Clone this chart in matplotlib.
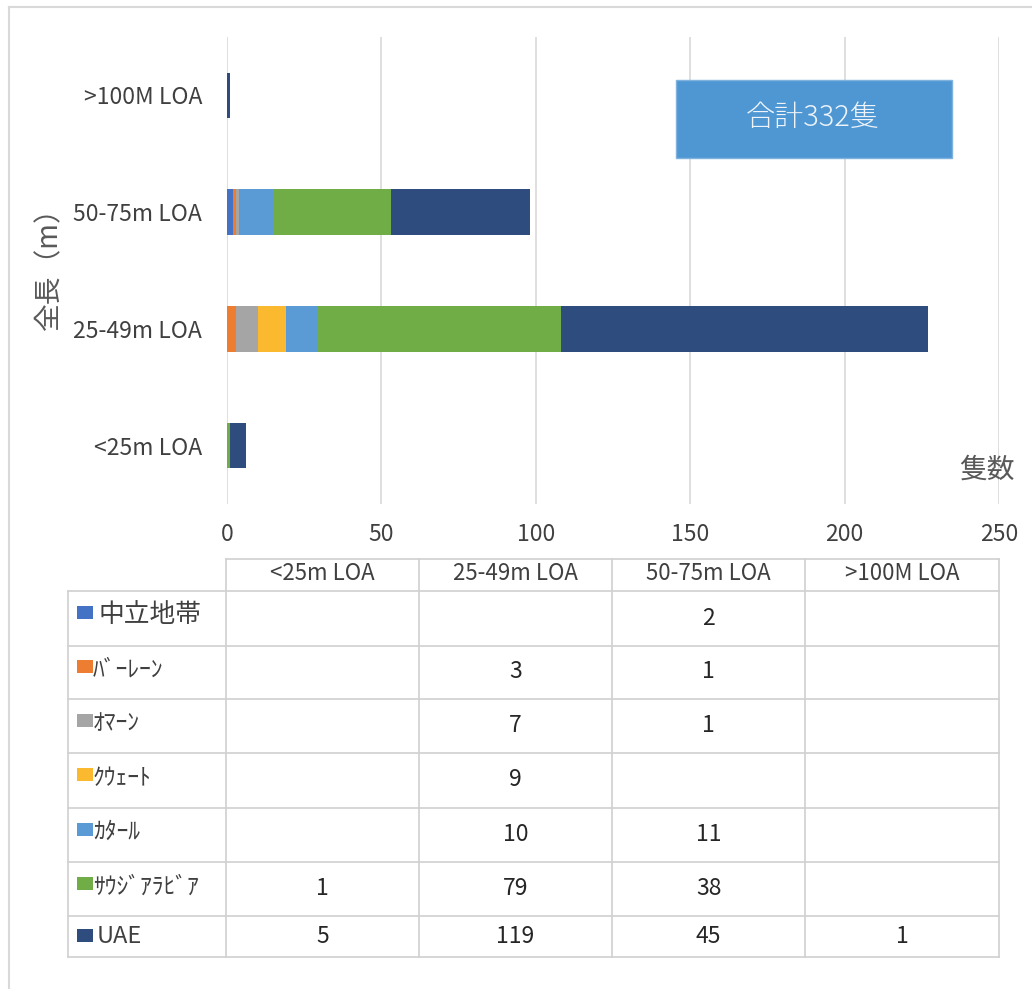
import matplotlib
matplotlib.use("Agg")
import matplotlib.pyplot as plt
from matplotlib.patches import Rectangle
import numpy as np

plt.rcParams['font.family'] = ['Noto Sans CJK JP', 'DejaVu Sans']

categories = ['<25m LOA', '25-49m LOA', '50-75m LOA', '>100M LOA']
series_names = ['中立地帯', 'ﾊﾞｰﾚｰﾝ', 'ｵﾏｰﾝ', 'ｸｳｪｰﾄ', 'ｶﾀｰﾙ', 'ｻｳｼﾞｱﾗﾋﾞｱ', 'UAE']
neutral_zone = [0, 0, 2, 0]
bahrain = [0, 3, 1, 0]
oman = [0, 7, 1, 0]
kuwait = [0, 9, 0, 0]
qatar = [0, 10, 11, 0]
saudi = [1, 79, 38, 0]
uae = [5, 119, 45, 1]
series_values = [neutral_zone, bahrain, oman, kuwait, qatar, saudi, uae]
colors = ['#4472C4', '#ED7D31', '#A5A5A5', '#FBB92F', '#5B9BD5', '#70AD47', '#2E4C7E']
x_ticks = [0, 50, 100, 150, 200, 250]
total_label = '合計332隻'
y_label = '全長（m）'
x_label = '隻数'

W, H = 1032, 989
fig = plt.figure(figsize=(W / 100, H / 100), dpi=100)

# main bar axes (pixel box: x 227..999, y 37..504)
ax = fig.add_axes([227 / W, 1 - 504 / H, (999 - 227) / W, (504 - 37) / H])
ypos = np.arange(len(categories))
left = np.zeros(len(categories))
for name, vals, c in zip(series_names, series_values, colors):
    vals = np.array(vals, dtype=float)
    ax.barh(ypos, vals, left=left, height=0.39, color=c, zorder=3)
    left += vals
ax.set_xlim(0, 250)
ax.set_ylim(-0.5, 3.5)
ax.set_xticks(x_ticks)
ax.set_xticklabels([str(t) for t in x_ticks], fontsize=16.5, color='#404040')
ax.set_yticks(ypos)
ax.set_yticklabels(categories, fontsize=16.5, color='#404040')
ax.tick_params(axis='x', length=0, pad=14)
ax.tick_params(axis='y', length=0, pad=18)
ax.grid(axis='x', color='#D9D9D9', linewidth=1.2, zorder=0)
for s in ax.spines.values():
    s.set_visible(False)
ax.set_ylabel(y_label, fontsize=20, color='#595959')
ax.yaxis.set_label_coords((64 - 227) / 772, (504 - 262) / 467)

# overlay axes in pixel coordinates
ov = fig.add_axes([0, 0, 1, 1], zorder=5)
ov.set_xlim(0, W)
ov.set_ylim(H, 0)
ov.axis('off')
ov.patch.set_alpha(0)

# chart area border (top + left)
ov.plot([9, W], [6.5, 6.5], color='#D9D9D9', lw=1.5)
ov.plot([9, 9], [6.5, H], color='#D9D9D9', lw=1.5)

# total box
ov.add_patch(Rectangle((676, 80), 276, 78, facecolor='#4F97D3', edgecolor='#7FB2DE', lw=1))
ov.text(813, 118, total_label, fontsize=21, color='#EEF4FA', ha='center', va='center',
        fontweight='light')

# x axis title
ov.text(987, 470, x_label, fontsize=20, color='#595959', ha='center', va='center')

# data table
col_b = [68, 226, 419, 612, 805, 999]
row_b = [559, 591, 645.5, 698.5, 752.5, 807.5, 862, 915.5, 957]
lc = '#D0D0D0'
for i, yb in enumerate(row_b):
    x0 = col_b[1] if i == 0 else col_b[0]
    ov.plot([x0, col_b[-1]], [yb, yb], color=lc, lw=1.2)
for j, xb in enumerate(col_b):
    y0 = row_b[1] if j == 0 else row_b[0]
    ov.plot([xb, xb], [y0, row_b[-1]], color=lc, lw=1.2)
for j, cat in enumerate(categories):
    cx = (col_b[j + 1] + col_b[j + 2]) / 2
    ov.text(cx, (row_b[0] + row_b[1]) / 2 - 1, cat, fontsize=16, color='#404040',
            ha='center', va='center')
for i, (name, vals, c) in enumerate(zip(series_names, series_values, colors)):
    cy = (row_b[i + 1] + row_b[i + 2]) / 2
    if name == 'UAE':
        ov.add_patch(Rectangle((77, cy - 7), 16, 13, facecolor=c, edgecolor='none'))
        ov.text(97, cy, name, fontsize=17, color='#404040', ha='left', va='center')
    else:
        ov.add_patch(Rectangle((77, cy - 12), 16, 13, facecolor=c, edgecolor='none'))
        if name == '中立地帯':
            ov.text(99, cy - 3, name, fontsize=18.5, color='#404040', ha='left', va='center')
        else:
            ov.text(93, cy - 2, name, fontsize=17, color='#404040', ha='left', va='center')
    for j, v in enumerate(vals):
        if v:
            cx = (col_b[j + 1] + col_b[j + 2]) / 2
            ov.text(cx, cy, str(v), fontsize=16.5, color='#262626', ha='center', va='center')

fig.savefig('out.png', dpi=100, facecolor='white')
